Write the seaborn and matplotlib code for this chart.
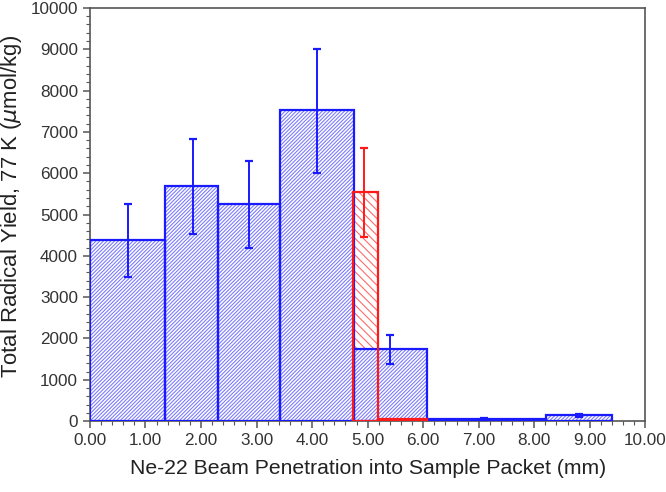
import numpy as np
import matplotlib
matplotlib.use("Agg")
import matplotlib.pyplot as plt
import seaborn as sns

# blue bins (left edge, right edge, yield) and error bars
blue_left = [0.00, 1.35, 2.31, 3.43, 4.75, 6.06, 8.21]
blue_right = [1.35, 2.31, 3.43, 4.75, 6.06, 8.21, 9.40]
blue_yield = [4380, 5700, 5250, 7530, 1750, 50, 140]
blue_err_x = [0.69, 1.86, 2.87, 4.09, 5.40, 7.10, 8.80]
blue_err_lo = [3490, 4530, 4190, 6010, 1390, 30, 110]
blue_err_hi = [5250, 6830, 6300, 9010, 2080, 70, 170]

# red bins
red_left = [4.74, 5.19]
red_right = [5.19, 6.06]
red_yield = [5540, 50]
red_err_x = [4.93]
red_err_lo = [4460]
red_err_hi = [6620]

blue = "#1a1aff"
red = "#ff1a1a"

sns.set_style("ticks")
plt.rcParams["font.family"] = ["Liberation Sans", "DejaVu Sans"]
plt.rcParams["hatch.linewidth"] = 0.8

fig = plt.figure(figsize=(6.66, 4.92), dpi=100)
ax = fig.add_axes([0.135, 0.144, 0.834, 0.840])

bl = np.array(blue_left)
bw = np.array(blue_right) - bl
rl = np.array(red_left)
rw = np.array(red_right) - rl

# red bars hatched, underneath (hatch takes the edge colour)
ax.bar(rl, red_yield, width=rw, align="edge", facecolor="white",
       edgecolor="#ff6a6a", hatch="\\\\\\\\", linewidth=0, zorder=2)

# blue bars hatched
ax.bar(bl, blue_yield, width=bw, align="edge", facecolor="white",
       edgecolor="#7c7cff", hatch="/" * 9, linewidth=0, zorder=3)

# outlines
ax.bar(bl, blue_yield, width=bw, align="edge", fill=False,
       edgecolor=blue, linewidth=1.6, zorder=4)
ax.bar(rl, red_yield, width=rw, align="edge", fill=False,
       edgecolor=red, linewidth=1.6, zorder=5)

# error bars
b_mid = (np.array(blue_err_lo) + np.array(blue_err_hi)) / 2
ax.errorbar(blue_err_x, b_mid,
            yerr=[b_mid - np.array(blue_err_lo), np.array(blue_err_hi) - b_mid],
            fmt="none", ecolor=blue, elinewidth=1.4, capsize=3, capthick=1.6, zorder=6)
r_mid = (np.array(red_err_lo) + np.array(red_err_hi)) / 2
ax.errorbar(red_err_x, r_mid,
            yerr=[r_mid - np.array(red_err_lo), np.array(red_err_hi) - r_mid],
            fmt="none", ecolor=red, elinewidth=1.4, capsize=3, capthick=1.6, zorder=6)

ax.set_xlim(0, 10)
ax.set_ylim(0, 10000)
ax.set_xticks(np.arange(0, 10.01, 1))
ax.set_xticklabels([f"{v:.2f}" for v in np.arange(0, 10.01, 1)])
ax.set_xticks(np.arange(0, 10.01, 0.2), minor=True)
ax.set_yticks(np.arange(0, 10001, 1000))
ax.set_yticks(np.arange(0, 10001, 200), minor=True)

for s in ax.spines.values():
    s.set_color("#555555")
    s.set_linewidth(1.2)
ax.tick_params(which="major", direction="out", length=5, width=1.1,
               colors="#555555", labelcolor="#333333", labelsize=12.3)
ax.tick_params(which="minor", direction="out", length=3, width=0.8, colors="#555555")

ax.set_xlabel("Ne-22 Beam Penetration into Sample Packet (mm)",
              fontsize=15.2, color="#222222", labelpad=8)
ax.set_ylabel("Total Radical Yield, 77 K ($\\mu$mol/kg)",
              fontsize=15.9, color="#222222")
ax.yaxis.set_label_coords(-0.119, 0.52)

fig.savefig("out.png", dpi=100)
